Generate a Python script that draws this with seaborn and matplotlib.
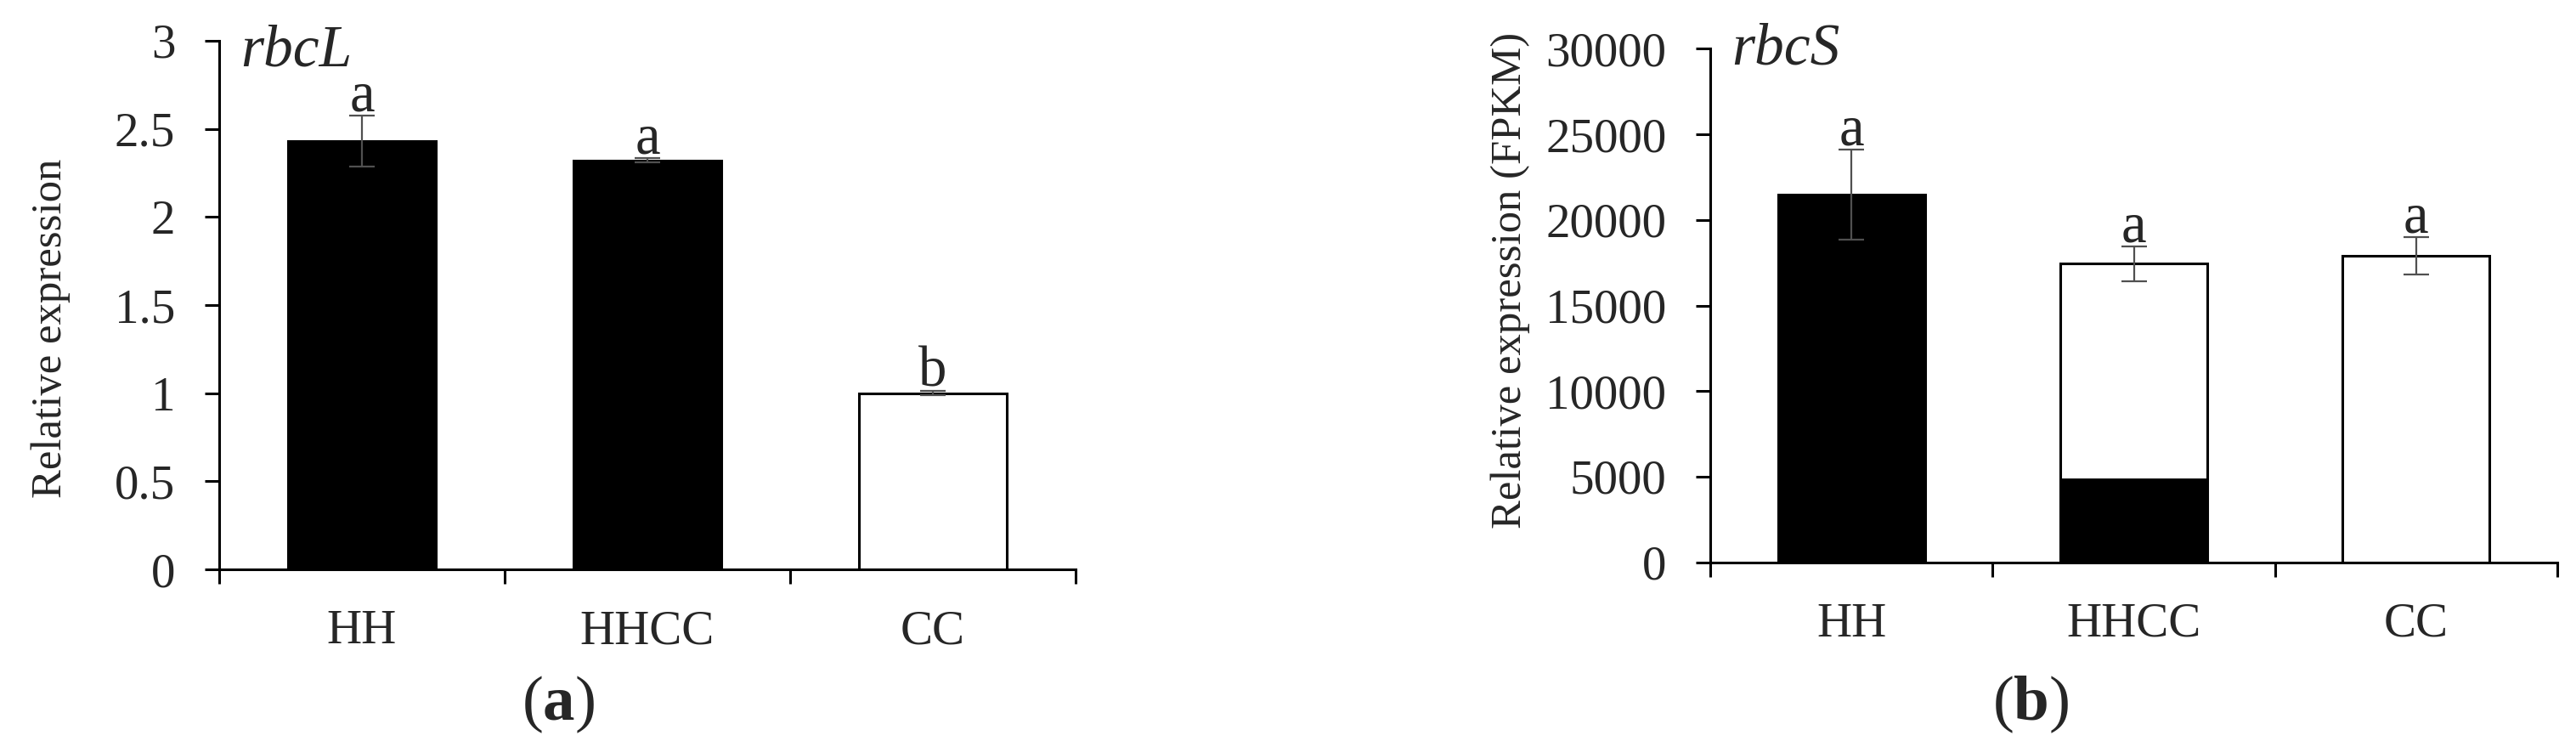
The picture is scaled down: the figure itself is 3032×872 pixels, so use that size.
import matplotlib
matplotlib.use("Agg")
import matplotlib.pyplot as plt
import seaborn as sns
import pandas as pd
import numpy as np

# ---------------- data ----------------
categories = ["HH", "HHCC", "CC"]

rbcL_values = [2.43, 2.32, 1.00]
rbcL_errors = [0.145, 0.012, 0.012]
rbcL_letters = ["a", "a", "b"]
rbcL_colors = ["black", "black", "white"]
rbcL_ticks = [0, 0.5, 1, 1.5, 2, 2.5, 3]
rbcL_ticklabels = ["0", "0.5", "1", "1.5", "2", "2.5", "3"]

rbcS_total = [21500, 17450, 17900]
rbcS_hh_part = [21500, 4850, 0]
rbcS_errors = [2630, 1015, 1110]
rbcS_letters = ["a", "a", "a"]
rbcS_ticks = [0, 5000, 10000, 15000, 20000, 25000, 30000]
rbcS_ticklabels = ["0", "5000", "10000", "15000", "20000", "25000", "30000"]

# ---------------- style ----------------
sns.set_theme(style="ticks")
plt.rcParams["font.family"] = ["Liberation Serif", "DejaVu Serif"]
plt.rcParams["mathtext.fontset"] = "custom"
plt.rcParams["mathtext.rm"] = "Liberation Serif"
plt.rcParams["mathtext.bf"] = "Liberation Serif:bold"
plt.rcParams["axes.edgecolor"] = "black"

TICK_FS = 41
LETTER_FS = 48
TITLE_FS = 50
YLAB_FS = 36.5
CAP_FS = 54
LW = 2.2

fig = plt.figure(figsize=(30.32, 8.72), dpi=100)
W, H = 3032, 872


def px_axes(x0, x1, ytop, ybot):
    return fig.add_axes([x0 / W, (H - ybot) / H, (x1 - x0) / W, (ybot - ytop) / H])


ax1 = px_axes(258, 1266, 48, 670)
ax2 = px_axes(2013, 3010, 57.3, 661.7)


def style_axis(ax, ticks, ticklabels, ylim):
    ax.set_ylim(*ylim)
    ax.set_xlim(-0.5, 2.5)
    for s in ["top", "right"]:
        ax.spines[s].set_visible(False)
    for s in ["left", "bottom"]:
        ax.spines[s].set_linewidth(LW)
        ax.spines[s].set_color("black")
    ax.set_yticks(ticks)
    ax.set_yticklabels(ticklabels)
    ax.set_xticks([0, 1, 2])
    ax.set_xticklabels(categories)
    ax.set_xticks([-0.5, 0.5, 1.5, 2.5], minor=True)
    ax.tick_params(axis="y", direction="out", length=12.2, width=LW,
                   labelsize=TICK_FS, pad=25, color="black")
    ax.tick_params(axis="x", which="major", length=0, labelsize=TICK_FS, pad=34)
    ax.tick_params(axis="x", which="minor", direction="out", length=12.2,
                   width=LW, color="black")
    ax.set_xlabel("")
    ax.set_ylabel("")
    ax.grid(False)
    ax.set_facecolor("white")


# ---------------- panel (a) ----------------
dfa = pd.DataFrame({"group": categories, "value": rbcL_values})
sns.barplot(data=dfa, x="group", y="value", hue="group", order=categories,
            palette=dict(zip(categories, rbcL_colors)), legend=False,
            errorbar=None, width=0.52, edgecolor="black", linewidth=LW, ax=ax1)
ax1.errorbar(x=np.arange(len(categories)), y=rbcL_values, yerr=rbcL_errors,
             fmt="none", ecolor="#505050", elinewidth=1.6, capsize=11,
             capthick=1.6, zorder=5)
for i, (v, e, t) in enumerate(zip(rbcL_values, rbcL_errors, rbcL_letters)):
    ax1.annotate(t, xy=(i, v + e), xytext=(0, 4), textcoords="offset points",
                 ha="center", va="baseline", fontsize=LETTER_FS)
style_axis(ax1, rbcL_ticks, rbcL_ticklabels, (0, 3))

# ---------------- panel (b) ----------------
dfb = pd.DataFrame({"group": categories, "total": rbcS_total, "hh": rbcS_hh_part})
sns.barplot(data=dfb, x="group", y="total", color="white", order=categories,
            errorbar=None, width=0.52, edgecolor="black", linewidth=LW, ax=ax2)
sns.barplot(data=dfb, x="group", y="hh", color="black", order=categories,
            errorbar=None, width=0.52, edgecolor="black", linewidth=LW * 0.6,
            ax=ax2)
ax2.errorbar(x=np.arange(len(categories)), y=rbcS_total, yerr=rbcS_errors,
             fmt="none", ecolor="#505050", elinewidth=1.6, capsize=11,
             capthick=1.6, zorder=5)
for i, (v, e, t) in enumerate(zip(rbcS_total, rbcS_errors, rbcS_letters)):
    ax2.annotate(t, xy=(i, v + e), xytext=(0, 4), textcoords="offset points",
                 ha="center", va="baseline", fontsize=LETTER_FS)
style_axis(ax2, rbcS_ticks, rbcS_ticklabels, (0, 30000))

# ---------------- texts ----------------
fig.text(283 / W, (H - 77) / H, "rbcL", fontsize=TITLE_FS, fontstyle="italic",
         ha="left", va="baseline")
fig.text(2038 / W, (H - 75) / H, "rbcS", fontsize=TITLE_FS, fontstyle="italic",
         ha="left", va="baseline")

fig.text(60 / W, (H - 386) / H, "Relative expression", rotation=90,
         fontsize=YLAB_FS, ha="center", va="center")
fig.text(1778 / W, (H - 330) / H, "Relative expression (FPKM)", rotation=90,
         fontsize=YLAB_FS, ha="center", va="center")

fig.text(657 / W, (H - 847) / H, r"($\mathbf{a}$)", fontsize=CAP_FS,
         ha="center", va="baseline")
fig.text(2390 / W, (H - 847) / H, r"($\mathbf{b}$)", fontsize=CAP_FS,
         ha="center", va="baseline")

fig.savefig("out.png", dpi=100, facecolor="white")
